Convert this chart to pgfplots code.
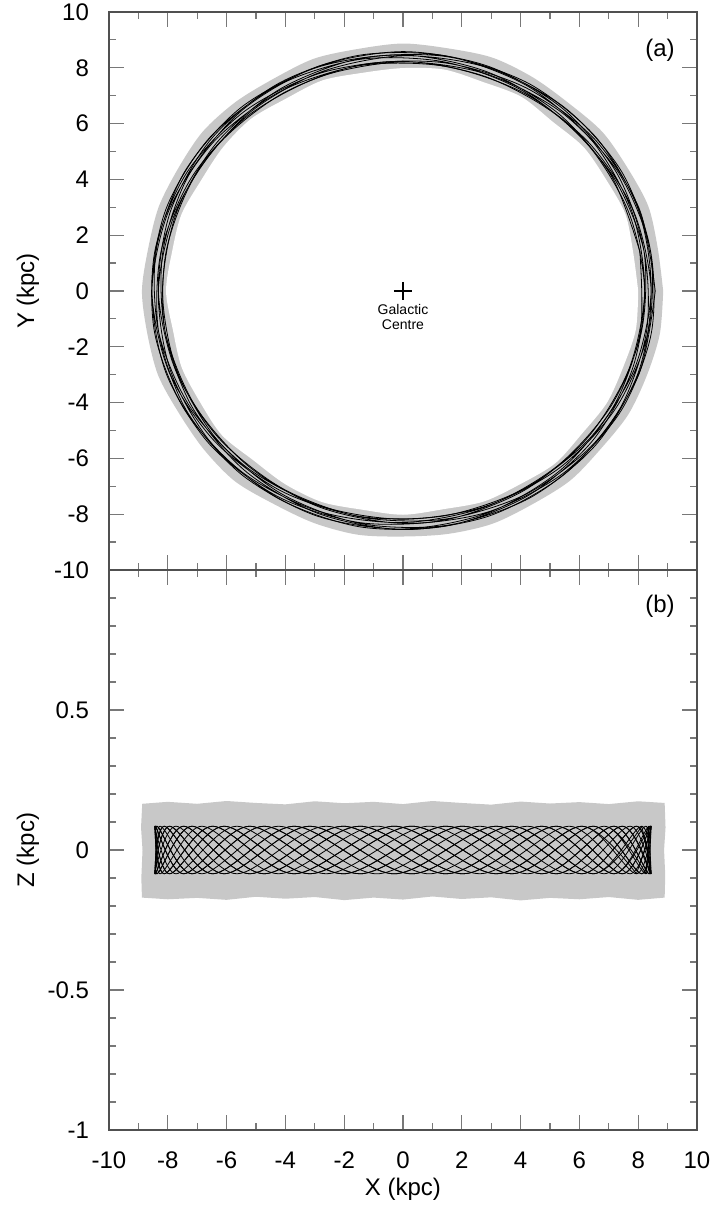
\documentclass[border=0pt]{standalone}
\usepackage{fontspec}
\setmainfont{Liberation Sans}
\usepackage{pgfplots}
\pgfplotsset{compat=1.18}

\definecolor{dotgray}{RGB}{200,200,200}
\definecolor{axgray}{RGB}{80,80,80}
\definecolor{tkgray}{RGB}{120,120,120}

\pgfplotsset{
  panel/.style={
    scale only axis,
    width=294pt,
    xmin=-10, xmax=10,
    xtick={-10,-8,...,10},
    minor xtick={-9,-7,...,9},
    tick align=inside,
    tick pos=both,
    major tick length=7.5pt,
    minor tick length=3.5pt,
    axis line style={axgray, line width=0.75pt},
    tick style={tkgray, line width=0.6pt},
    tick label style={font=\fontsize{12}{14}\selectfont},
    /pgf/number format/assume math mode=true,
    yticklabel style={xshift=-6.5pt},
    xticklabel style={yshift=-7.5pt},
    every axis y label/.style={at={(axis description cs:-0.138,0.5)}, rotate=90, anchor=center,
      font=\fontsize{12}{14}\selectfont},
    every axis x label/.style={at={(axis description cs:0.5,0)}, yshift=-29.5pt, anchor=center,
      font=\fontsize{12}{14}\selectfont},
  },
  orbit/.style={black, line width=0.4pt, smooth},
}

\begin{document}
\begin{tikzpicture}
\path[use as bounding box] (-54.5pt,-40.5pt) rectangle (303pt,565pt);

% (a) X-Y plane
\begin{axis}[panel,
    at={(0,280pt)}, anchor=south west,
    height=279pt,
    ymin=-10, ymax=10,
    ytick={-10,-8,...,10},
    minor ytick={-9,-7,...,9},
    xticklabels={},
    ylabel={Y (kpc)},
]
% scatter of the simulated positions (grey band)
\addplot[fill=dotgray, draw=none, smooth, data cs=polar] coordinates {
 (0,8.85)(10,8.80)(20,8.88)(30,8.82)(40,8.86)(50,8.78)(60,8.84)(70,8.90)(80,8.83)
 (90,8.87)(100,8.81)(110,8.86)(120,8.79)(130,8.85)(140,8.89)(150,8.82)(160,8.84)(170,8.80)
 (180,8.88)(190,8.83)(200,8.86)(210,8.79)(220,8.84)(230,8.90)(240,8.81)(250,8.85)(260,8.87)
 (270,8.80)(280,8.84)(290,8.88)(300,8.82)(310,8.86)(320,8.79)(330,8.85)(340,8.83)(350,8.87)
 (360,8.85)};
\addplot[fill=white, draw=none, smooth, data cs=polar] coordinates {
 (0,8.00)(10,7.95)(20,8.05)(30,7.98)(40,8.02)(50,7.92)(60,8.04)(70,7.97)(80,8.06)
 (90,7.99)(100,7.94)(110,8.03)(120,7.96)(130,8.05)(140,8.00)(150,7.93)(160,8.02)(170,7.98)
 (180,8.06)(190,7.95)(200,8.01)(210,7.97)(220,8.04)(230,7.92)(240,8.00)(250,8.05)(260,7.96)
 (270,8.02)(280,7.94)(290,8.03)(300,7.99)(310,8.06)(320,7.95)(330,8.01)(340,7.97)(350,8.04)
 (360,8.00)};
% orbit (angle in degrees, radius in kpc)
\addplot[orbit, data cs=polar] coordinates {
 (0,8.58)(20,8.56)(40,8.49)(60,8.40)(80,8.30)(100,8.23)(120,8.18)(140,8.19)(160,8.24)
 (180,8.32)(200,8.41)(220,8.50)(240,8.56)(260,8.58)(280,8.55)(300,8.48)(320,8.39)(340,8.29)
 (360,8.22)(380,8.18)(400,8.19)(420,8.25)(440,8.33)(460,8.43)(480,8.51)(500,8.57)(520,8.58)
 (540,8.54)(560,8.47)(580,8.37)(600,8.28)(620,8.21)(640,8.18)(660,8.20)(680,8.26)(700,8.35)
 (720,8.44)(740,8.52)(760,8.57)(780,8.58)(800,8.53)(820,8.46)(840,8.36)(860,8.27)(880,8.20)
 (900,8.18)(920,8.20)(940,8.27)(960,8.36)(980,8.46)(1000,8.53)(1020,8.58)(1040,8.57)(1060,8.52)
 (1080,8.44)(1100,8.35)(1120,8.26)(1140,8.20)(1160,8.18)(1180,8.21)(1200,8.28)(1220,8.37)(1240,8.47)
 (1260,8.54)(1280,8.58)(1300,8.57)(1320,8.51)(1340,8.43)(1360,8.33)(1380,8.25)(1400,8.19)(1420,8.18)
 (1440,8.22)(1460,8.29)(1480,8.39)(1500,8.48)(1520,8.55)(1540,8.58)(1560,8.56)(1580,8.50)(1600,8.41)
 (1620,8.32)(1640,8.24)(1660,8.19)(1680,8.18)(1700,8.23)(1720,8.30)(1740,8.40)(1760,8.49)(1780,8.56)
 (1800,8.58)};
\addplot[orbit, data cs=polar] coordinates {
 (10,8.18)(30,8.20)(50,8.27)(70,8.36)(90,8.46)(110,8.53)(130,8.58)(150,8.57)(170,8.52)
 (190,8.44)(210,8.35)(230,8.26)(250,8.20)(270,8.18)(290,8.21)(310,8.28)(330,8.37)(350,8.47)
 (370,8.54)(390,8.58)(410,8.57)(430,8.51)(450,8.43)(470,8.33)(490,8.25)(510,8.19)(530,8.18)
 (550,8.22)(570,8.29)(590,8.39)(610,8.48)(630,8.55)(650,8.58)(670,8.56)(690,8.50)(710,8.41)
 (730,8.32)(750,8.24)(770,8.19)(790,8.18)(810,8.23)(830,8.30)(850,8.40)(870,8.49)(890,8.56)
 (910,8.58)(930,8.56)(950,8.49)(970,8.40)(990,8.30)(1010,8.23)(1030,8.18)(1050,8.19)(1070,8.24)
 (1090,8.32)(1110,8.41)(1130,8.50)(1150,8.56)(1170,8.58)(1190,8.55)(1210,8.48)(1230,8.39)(1250,8.29)
 (1270,8.22)(1290,8.18)(1310,8.19)(1330,8.25)(1350,8.33)(1370,8.43)(1390,8.51)(1410,8.57)(1430,8.58)
 (1450,8.54)(1470,8.47)(1490,8.37)(1510,8.28)(1530,8.21)(1550,8.18)(1570,8.20)(1590,8.26)(1610,8.35)
 (1630,8.44)(1650,8.52)(1670,8.57)(1690,8.58)(1710,8.53)(1730,8.46)(1750,8.36)(1770,8.27)(1790,8.20)
 (1810,8.18)};
\addplot[only marks, mark=+, mark size=4.5pt, black, line width=0.75pt] coordinates {(0,0)};
\node[align=center, font=\fontsize{7}{7.5}\selectfont, inner sep=0pt] at (axis cs:0,-0.93) {Galactic\\Centre};
\node[font=\fontsize{12}{14}\selectfont] at (axis cs:8.74,8.64) {(a)};
\end{axis}

% (b) X-Z plane
\begin{axis}[panel,
    at={(0,0)}, anchor=south west,
    height=280pt,
    ymin=-1, ymax=1,
    ytick={-1,-0.5,0,0.5},
    minor ytick={-0.9,-0.8,-0.7,-0.6,-0.4,-0.3,-0.2,-0.1,0.1,0.2,0.3,0.4,0.6,0.7,0.8,0.9},
    xlabel={X (kpc)},
    ylabel={Z (kpc)},
]
\addplot[fill=dotgray, draw=none] coordinates {
 (-8.88,-0.170)(-8.90,-0.100)(-8.86,0.000)(-8.91,0.080)(-8.87,0.165)
 (-8,0.172)(-7,0.165)(-6,0.175)(-5,0.168)(-4,0.163)(-3,0.174)(-2,0.167)(-1,0.172)(0,0.164)
 (1,0.175)(2,0.168)(3,0.162)(4,0.173)(5,0.166)(6,0.171)(7,0.164)(8,0.174)
 (8.90,0.168)(8.93,0.080)(8.88,0.000)(8.92,-0.090)(8.90,-0.170)
 (8,-0.178)(7,-0.168)(6,-0.176)(5,-0.171)(4,-0.180)(3,-0.169)(2,-0.175)(1,-0.166)(0,-0.177)
 (-1,-0.170)(-2,-0.179)(-3,-0.168)(-4,-0.174)(-5,-0.167)(-6,-0.178)(-7,-0.171)(-8,-0.176)
 (-8.88,-0.170)};
% orbit: turning points of the vertical oscillation
\addplot[orbit] coordinates {
 (8.45,0.085)(7.72,-0.085)(5.65,0.085)(2.61,-0.085)(-0.89,0.085)(-4.23,-0.085)(-6.84,0.085)(-8.26,-0.085)
 (-8.26,0.085)(-6.84,-0.085)(-4.23,0.085)(-0.89,-0.085)(2.61,0.085)(5.65,-0.085)(7.72,0.085)
 (8.45,-0.085)(7.72,0.085)(5.65,-0.085)(2.61,0.085)(-0.89,-0.085)(-4.23,0.085)(-6.84,-0.085)(-8.26,0.085)
 (-8.26,-0.085)(-6.84,0.085)(-4.23,-0.085)(-0.89,0.085)(2.61,-0.085)(5.65,0.085)(7.72,-0.085)(8.45,0.085)};
\addplot[orbit] coordinates {
 (8.43,-0.085)(7.46,0.085)(5.21,-0.085)(2.04,0.085)(-1.47,-0.085)(-4.72,0.085)(-7.17,-0.085)(-8.37,0.085)
 (-8.12,-0.085)(-6.47,0.085)(-3.70,-0.085)(-0.30,0.085)(3.17,-0.085)(6.08,0.085)(7.94,-0.085)
 (8.43,0.085)(7.46,-0.085)(5.21,0.085)(2.04,-0.085)(-1.47,0.085)(-4.72,-0.085)(-7.17,0.085)(-8.37,-0.085)
 (-8.12,0.085)(-6.47,-0.085)(-3.70,0.085)(-0.30,-0.085)(3.17,0.085)(6.08,-0.085)(7.94,0.085)(8.43,-0.085)};
\addplot[orbit] coordinates {
 (8.37,0.085)(7.17,-0.085)(4.72,0.085)(1.47,-0.085)(-2.04,0.085)(-5.21,-0.085)(-7.46,0.085)(-8.43,-0.085)
 (-7.94,0.085)(-6.08,-0.085)(-3.17,0.085)(0.30,-0.085)(3.70,0.085)(6.47,-0.085)(8.12,0.085)
 (8.37,-0.085)(7.17,0.085)(4.72,-0.085)(1.47,0.085)(-2.04,-0.085)(-5.21,0.085)(-7.46,-0.085)(-8.43,0.085)
 (-7.94,-0.085)(-6.08,0.085)(-3.17,-0.085)(0.30,0.085)(3.70,-0.085)(6.47,0.085)(8.12,-0.085)(8.37,0.085)};
\addplot[orbit] coordinates {
 (8.26,-0.085)(6.84,0.085)(4.23,-0.085)(0.89,0.085)(-2.61,-0.085)(-5.65,0.085)(-7.72,-0.085)(-8.45,0.085)
 (-7.72,-0.085)(-5.65,0.085)(-2.61,-0.085)(0.89,0.085)(4.23,-0.085)(6.84,0.085)(8.26,-0.085)
 (8.26,0.085)(6.84,-0.085)(4.23,0.085)(0.89,-0.085)(-2.61,0.085)(-5.65,-0.085)(-7.72,0.085)(-8.45,-0.085)
 (-7.72,0.085)(-5.65,-0.085)(-2.61,0.085)(0.89,-0.085)(4.23,0.085)(6.84,-0.085)(8.26,0.085)(8.26,-0.085)};
\addplot[orbit] coordinates {
 (8.12,0.085)(6.47,-0.085)(3.70,0.085)(0.30,-0.085)(-3.17,0.085)(-6.08,-0.085)(-7.94,0.085)(-8.43,-0.085)
 (-7.46,0.085)(-5.21,-0.085)(-2.04,0.085)(1.47,-0.085)(4.72,0.085)(7.17,-0.085)(8.37,0.085)
 (8.12,-0.085)(6.47,0.085)(3.70,-0.085)(0.30,0.085)(-3.17,-0.085)(-6.08,0.085)(-7.94,-0.085)(-8.43,0.085)
 (-7.46,-0.085)(-5.21,0.085)(-2.04,-0.085)(1.47,0.085)(4.72,-0.085)(7.17,0.085)(8.37,-0.085)(8.12,0.085)};
\addplot[orbit] coordinates {
 (7.94,-0.085)(6.08,0.085)(3.17,-0.085)(-0.30,0.085)(-3.70,-0.085)(-6.47,0.085)(-8.12,-0.085)(-8.37,0.085)
 (-7.17,-0.085)(-4.72,0.085)(-1.47,-0.085)(2.04,0.085)(5.21,-0.085)(7.46,0.085)(8.43,-0.085)
 (7.94,0.085)(6.08,-0.085)(3.17,0.085)(-0.30,-0.085)(-3.70,0.085)(-6.47,-0.085)(-8.12,0.085)(-8.37,-0.085)
 (-7.17,0.085)(-4.72,-0.085)(-1.47,0.085)(2.04,-0.085)(5.21,0.085)(7.46,-0.085)(8.43,0.085)(7.94,-0.085)};
\node[font=\fontsize{12}{14}\selectfont] at (axis cs:8.74,0.87) {(b)};
\end{axis}
\end{tikzpicture}
\end{document}
